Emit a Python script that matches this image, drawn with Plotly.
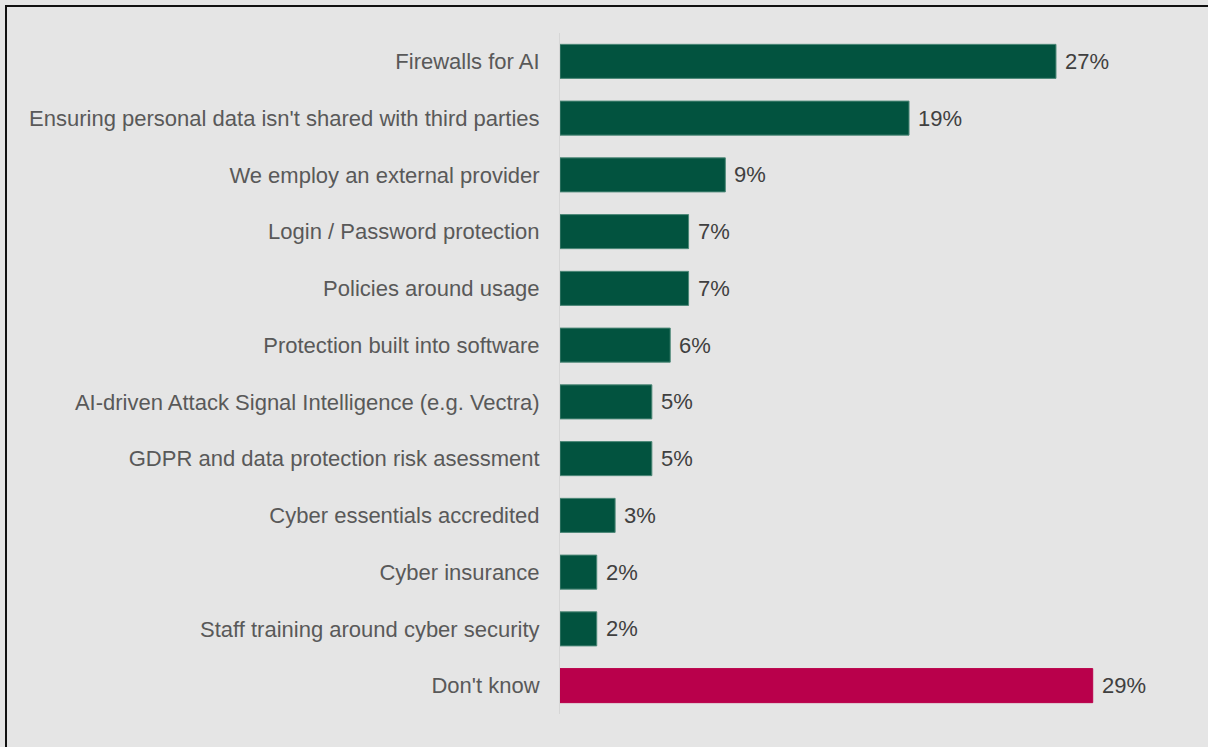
import plotly.graph_objects as go

# Survey responses: AI security measures in place
categories = [
    "Firewalls for AI",
    "Ensuring personal data isn't shared with third parties",
    "We employ an external provider",
    "Login / Password protection",
    "Policies around usage",
    "Protection built into software",
    "AI-driven Attack Signal Intelligence (e.g. Vectra)",
    "GDPR and data protection risk asessment",
    "Cyber essentials accredited",
    "Cyber insurance",
    "Staff training around cyber security",
    "Don't know",
]
values = [27, 19, 9, 7, 7, 6, 5, 5, 3, 2, 2, 29]
value_labels = [f"{v}%" for v in values]

GREEN = "#02533f"
CRIMSON = "#b9004b"
FONT = "Liberation Sans, Arial, sans-serif"
bar_colors = [CRIMSON if c == "Don't know" else GREEN for c in categories]
edge_colors = ["#b9004b" if c == "Don't know" else "#4d8878" for c in categories]

W, H = 1208, 747
ML, MR, MT, MB = 560, 51, 33, 33
plot_w = W - ML - MR
plot_h = H - MT - MB

fig = go.Figure(
    go.Bar(
        x=values,
        y=categories,
        orientation="h",
        marker=dict(color=bar_colors, line=dict(color=edge_colors, width=1)),
        width=0.6,
        hoverinfo="skip",
    )
)

# Percent labels just past the end of each bar
for cat, val, lab in zip(categories, values, value_labels):
    fig.add_annotation(
        x=val, y=cat, text=lab, showarrow=False,
        xanchor="left", yanchor="middle", xshift=7,
        font=dict(family=FONT, size=22, color="#404040"),
    )

# Frame around the chart (top and left edges fall inside the page)
def px_to_paper_x(px):
    return (px - ML) / plot_w

def px_to_paper_y(py):
    return (H - MB - py) / plot_h

fig.add_shape(
    type="rect", xref="paper", yref="paper",
    x0=px_to_paper_x(6), x1=px_to_paper_x(1240),
    y0=px_to_paper_y(780), y1=px_to_paper_y(6),
    line=dict(color="#111111", width=2), fillcolor="rgba(0,0,0,0)",
    layer="below",
)

fig.update_layout(
    width=W, height=H,
    margin=dict(l=ML, r=MR, t=MT, b=MB, pad=0),
    paper_bgcolor="#e5e5e5",
    plot_bgcolor="#e5e5e5",
    showlegend=False,
    font=dict(family=FONT, size=22, color="#595959"),
    xaxis=dict(
        range=[0, 32.5], showgrid=False, zeroline=False,
        showticklabels=False, showline=False, fixedrange=True,
    ),
    yaxis=dict(
        autorange="reversed", showgrid=False, zeroline=False,
        showline=True, linecolor="#d6d6d6", linewidth=1,
        ticks="", ticklabelstandoff=15,
        tickfont=dict(family=FONT, size=22, color="#595959"),
    ),
)

fig.write_html("out.html")
